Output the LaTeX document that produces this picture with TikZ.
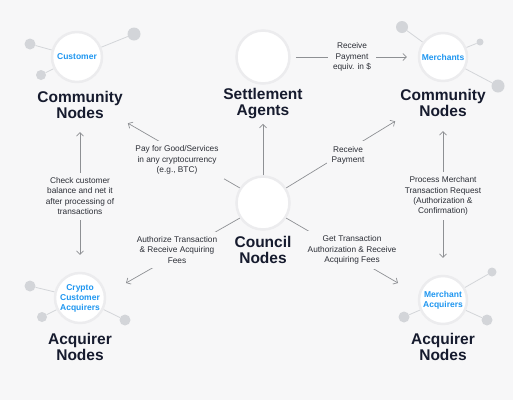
\documentclass[tikz,border=0pt]{standalone}
\usepackage{fontspec}
\setmainfont{Liberation Sans}
\usepackage{xcolor}
\usepackage{tikz}
\usetikzlibrary{positioning,arrows.meta,backgrounds}
\definecolor{bgc}{HTML}{F7F7F8}
\definecolor{ringc}{HTML}{ECECEE}
\definecolor{satc}{HTML}{D3D5D9}
\definecolor{bluec}{HTML}{1E96F0}
\definecolor{navyc}{HTML}{161B2E}
\definecolor{arrc}{HTML}{8E9094}
\definecolor{txtc}{HTML}{2B2E36}

\begin{document}
\begin{tikzpicture}[x=1pt,y=-1pt,
  hub/.style={circle,fill=white,draw=ringc,line width=2.5pt,minimum size=#1,inner sep=0pt,
              align=center,font=\fontsize{8.5}{10}\selectfont\bfseries,text=bluec},
  sat/.style={circle,fill=satc,minimum size=#1,inner sep=0pt},
  title/.style={align=center,font=\fontsize{15.5}{16}\selectfont\bfseries,text=navyc},
  lbl/.style={align=center,fill=bgc,inner sep=5pt,font=\fontsize{8.3}{10.3}\selectfont,text=txtc},
  spoke/.style={satc,line width=0.8pt},
  arr/.style={-{Straight Barb[length=3.5pt,width=7pt]},arrc,line width=0.7pt},
  darr/.style={{Straight Barb[length=3.5pt,width=7pt]}-{Straight Barb[length=3.5pt,width=7pt]},arrc,line width=0.7pt}]
\useasboundingbox (0,0) rectangle (513,400);
\node[hub=50pt] (cust) at (77,57) {Customer};
\node[hub=53pt] (settle) at (263,57) {};
\node[hub=48pt] (merch) at (443,57) {Merchants};
\node[hub=53pt] (council) at (263,203) {};
\node[hub=50pt] (cacq) at (80,298) {Crypto\\Customer\\Acquirers};
\node[hub=48pt] (macq) at (443,300) {Merchant\\Acquirers};
\node[sat=11pt] (c1) at (30,44) {};
\node[sat=10pt] (c2) at (41,75) {};
\node[sat=13pt] (c3) at (134,34) {};
\node[sat=12pt] (m1) at (402,27) {};
\node[sat=7pt] (m2) at (480,42) {};
\node[sat=13pt] (m3) at (498,86) {};
\node[sat=11pt] (a1) at (30,286) {};
\node[sat=10pt] (a2) at (42,317) {};
\node[sat=11pt] (a3) at (125,320) {};
\node[sat=9pt] (b1) at (492,272) {};
\node[sat=11pt] (b2) at (404,317) {};
\node[sat=11pt] (b3) at (487,320) {};
\begin{scope}[on background layer]
\fill[bgc] (0,0) rectangle (513,400);
\foreach \s in {c1,c2,c3} \draw[spoke] (cust) -- (\s);
\foreach \s in {m1,m2,m3} \draw[spoke] (merch) -- (\s);
\foreach \s in {a1,a2,a3} \draw[spoke] (cacq) -- (\s);
\foreach \s in {b1,b2,b3} \draw[spoke] (macq) -- (\s);
\end{scope}
\node[title] (custT) at (80,105) {Community\\Nodes};
\node[title] (setT) at (263,104) {Settlement\\Agents};
\node[title] (merT) at (443,103) {Community\\Nodes};
\node[title] (counT) at (263,250) {Council\\Nodes};
\node[title] (cacqT) at (80,347) {Acquirer\\Nodes};
\node[title] (macqT) at (443,347) {Acquirer\\Nodes};
\coordinate (cacqIn) at (126,283);
\coordinate (macqIn) at (398,283);
\draw[arr] (settle.east) -- (merch.west) [shorten <=5pt,shorten >=11pt];
\draw[arr] (council.north) -- (setT.south) [shorten >=1pt];
\draw[arr] (council.147) -- (custT.south east) [shorten >=2pt];
\draw[arr] (council.33) -- (merT.south west) [shorten >=2pt];
\draw[arr] (council.213) -- (cacqIn);
\draw[arr] (council.327) -- (macqIn);
\draw[darr] (custT.south) -- (cacq.north) [shorten <=10pt,shorten >=17pt];
\draw[darr] (merT.south) -- (macq.north) [shorten <=11pt,shorten >=17pt];
\node[lbl] (payL) at (352,57) {Receive\\Payment\\equiv. in \$};
\node[lbl] (buyL) at (177,160) {Pay for Good/Services\\in any cryptocurrency\\(e.g., BTC)};
\node[lbl] (recvL) at (348,155) {Receive\\Payment};
\node[lbl] (authL) at (177,250) {Authorize Transaction\\\& Receive Acquiring\\Fees};
\node[lbl] (getL) at (352,250) {Get Transaction\\Authorization \& Receive\\Acquiring Fees};
\node[lbl] (checkL) at (80,196) {Check customer\\balance and net it\\after processing of\\transactions};
\node[lbl] (procL) at (443,196) {Process Merchant\\Transaction Request\\(Authorization \&\\Confirmation)};
\end{tikzpicture}
\end{document}
